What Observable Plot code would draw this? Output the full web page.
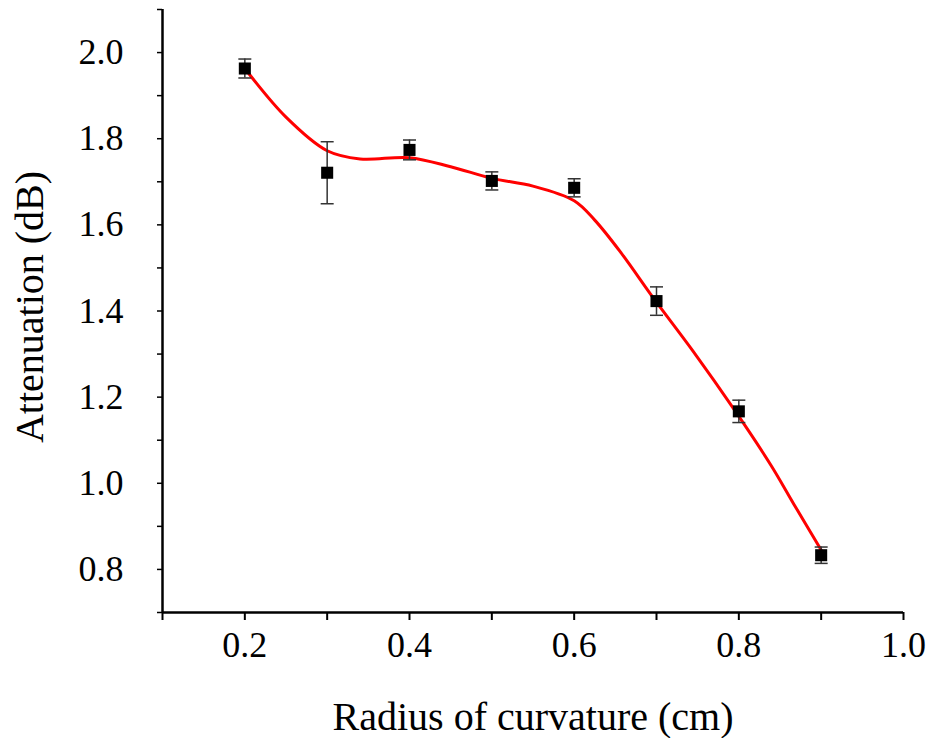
<!DOCTYPE html>
<html>
<head>
<meta charset="utf-8">
<script src="https://cdn.jsdelivr.net/npm/d3@7"></script>
<script src="https://cdn.jsdelivr.net/npm/@observablehq/plot@0.6"></script>
<style>
  html, body { margin: 0; padding: 0; background: #fff; }
  #chart svg { font-family: "Liberation Serif", "Times New Roman", serif; }
</style>
</head>
<body>
<div id="chart"></div>
<script>
// Measured data (radius of curvature in cm, attenuation in dB, error half-width)
const radius = [0.2, 0.3, 0.4, 0.5, 0.6, 0.7, 0.8, 0.9];
const attenuation = [1.963, 1.721, 1.774, 1.702, 1.686, 1.423, 1.167, 0.833];
const errorHalf = [0.022, 0.072, 0.023, 0.021, 0.021, 0.033, 0.026, 0.019];

// Red fitted curve
const fitX = [0.2, 0.25, 0.30, 0.34, 0.40, 0.45, 0.50, 0.55, 0.60, 0.625, 0.657, 0.697, 0.745, 0.794, 0.839, 0.867, 0.9];
const fitY = [1.963, 1.850, 1.772, 1.753, 1.756, 1.735, 1.708, 1.690, 1.656, 1.611, 1.535, 1.428, 1.305, 1.172, 1.042, 0.951, 0.845];

// Axis ticks and labels
const xTickValues = [0.1, 0.2, 0.3, 0.4, 0.5, 0.6, 0.7, 0.8, 0.9, 1.0];
const xLabelValues = [0.2, 0.4, 0.6, 0.8, 1.0];
const yTickValues = [0.7, 0.8, 0.9, 1.0, 1.1, 1.2, 1.3, 1.4, 1.5, 1.6, 1.7, 1.8, 1.9, 2.0, 2.1];
const yLabelValues = [0.8, 1.0, 1.2, 1.4, 1.6, 1.8, 2.0];
const xTitle = "Radius of curvature (cm)";
const yTitle = "Attenuation (dB)";

const points = radius.map((r, i) => ({x: r, y: attenuation[i], lo: attenuation[i] - errorHalf[i], hi: attenuation[i] + errorHalf[i]}));
const fit = fitX.map((x, i) => ({x, y: fitY[i]}));

const capSymbol = {
  draw(context) {
    context.moveTo(-6.5, 0);
    context.lineTo(6.5, 0);
  }
};

const chart = Plot.plot({
  width: 930,
  height: 738,
  marginLeft: 162,
  marginRight: 27,
  marginTop: 9,
  marginBottom: 126,
  style: {fontFamily: "Liberation Serif, Times New Roman, serif", background: "#fff"},
  x: {domain: [0.1, 1.0]},
  y: {domain: [0.7, 2.1]},
  marks: [
    // tick marks only
    Plot.axisX({ticks: xTickValues, tickSize: 8, tickFormat: () => "", stroke: "#000", strokeWidth: 2, label: null}),
    Plot.axisY({ticks: yTickValues, tickSize: 5, tickFormat: () => "", stroke: "#000", strokeWidth: 1.5, label: null}),
    // tick labels
    Plot.axisX({ticks: xLabelValues, tickSize: 0, tickPadding: 19, tickFormat: d3.format(".1f"), fontSize: 36, fill: "#000", label: null}),
    Plot.axisY({ticks: yLabelValues, tickSize: 0, tickPadding: 39, tickFormat: d3.format(".1f"), fontSize: 36, fill: "#000", label: null}),
    // axis lines
    Plot.ruleX([0.1], {stroke: "#000", strokeWidth: 2.5}),
    Plot.ruleY([0.7], {stroke: "#000", strokeWidth: 2.5}),
    // fitted curve
    Plot.line(fit, {x: "x", y: "y", stroke: "#ff0000", strokeWidth: 3, curve: "catmull-rom"}),
    // error bars
    Plot.ruleX(points, {x: "x", y1: "lo", y2: "hi", stroke: "#333", strokeWidth: 1.5}),
    Plot.dot(points, {x: "x", y: "hi", symbol: capSymbol, stroke: "#333", strokeWidth: 1.5, fill: "none"}),
    Plot.dot(points, {x: "x", y: "lo", symbol: capSymbol, stroke: "#333", strokeWidth: 1.5, fill: "none"}),
    // markers
    Plot.dot(points, {x: "x", y: "y", symbol: "square", r: 6.8, fill: "#000", stroke: "none"}),
    // titles
    Plot.text([xTitle], {frameAnchor: "bottom", dy: 105, lineAnchor: "middle", textAnchor: "middle", fontSize: 40, fill: "#000", text: d => d}),
    Plot.text([yTitle], {frameAnchor: "left", dx: -132, dy: -4, rotate: -90, lineAnchor: "middle", textAnchor: "middle", fontSize: 40, fill: "#000", text: d => d})
  ]
});

document.getElementById("chart").appendChild(chart);
</script>
</body>
</html>
